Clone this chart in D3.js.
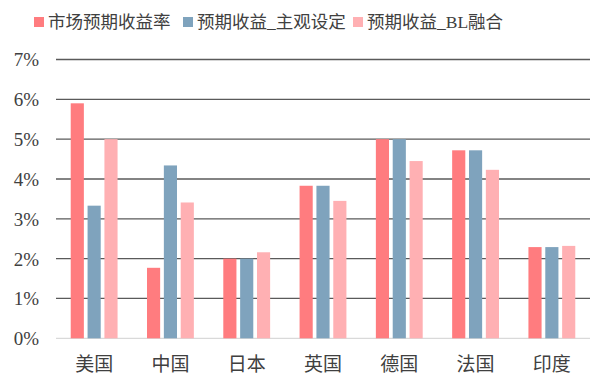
<!DOCTYPE html>
<html><head><meta charset="utf-8">
<script src="https://cdn.jsdelivr.net/npm/d3@7/dist/d3.min.js"></script>
<style>
body{margin:0;background:#fff;}
text{font-family:"Liberation Serif","Noto Sans CJK SC",serif;fill:#404040;}
</style></head>
<body><svg id="c" width="597" height="381"></svg>
<script>
const categories = ["美国","中国","日本","英国","德国","法国","印度"];
const seriesNames = ["市场预期收益率","预期收益_主观设定","预期收益_BL融合"];
const marketReturn = [0.059,0.0177,0.020,0.0383,0.050,0.0472,0.0229];
const subjectiveReturn = [0.0333,0.0434,0.020,0.0383,0.050,0.0472,0.0229];
const blReturn = [0.050,0.0341,0.0216,0.0345,0.0445,0.0423,0.0232];
const yTicks = [0,0.01,0.02,0.03,0.04,0.05,0.06,0.07];
const colors = ["#FF7C7F","#7FA3BD","#FFB0B3"];

(function(){
const seriesValues = [marketReturn, subjectiveReturn, blReturn];
const svg = d3.select("#c");
const pl = 56, pr = 590, pt = 59.5, pb = 338.3;

const x0 = d3.scaleBand().domain(categories).range([pl,pr]).padding(0);
const bw = x0.bandwidth();
const x1 = d3.scaleBand().domain(seriesNames).range([bw*0.193, bw*(1-0.193)]).paddingInner(0.22).paddingOuter(0);
const y = d3.scaleLinear().domain([0,0.07]).range([pb,pt]);

svg.append("g").selectAll("line").data(yTicks.filter(d=>d>0)).join("line")
  .attr("x1",pl).attr("x2",pr)
  .attr("y1",d=>y(d)).attr("y2",d=>y(d))
  .attr("stroke","#5a5a5a").attr("stroke-width",1.3);
svg.append("line").attr("x1",pl).attr("x2",pr).attr("y1",pb).attr("y2",pb)
  .attr("stroke","#d9d9d9").attr("stroke-width",1.3);

const yAxis = d3.axisLeft(y).tickValues(yTicks).tickFormat(d3.format(".0%")).tickSize(0).tickPadding(0);
const ya = svg.append("g").attr("transform","translate(39,0)").call(yAxis);
ya.select(".domain").remove();
ya.selectAll("text").style("font-size","19px").attr("fill","#404040").attr("dy","0.34em");

const groups = svg.append("g").selectAll("g").data(categories).join("g")
  .attr("transform",d=>`translate(${x0(d)},0)`);
groups.selectAll("rect").data((d,i)=>seriesNames.map((s,j)=>({s,j,v:seriesValues[j][i]}))).join("rect")
  .attr("x",d=>x1(d.s)).attr("width",x1.bandwidth())
  .attr("y",d=>y(d.v)).attr("height",d=>pb-y(d.v))
  .attr("fill",d=>colors[d.j]);

const xAxis = d3.axisBottom(x0).tickSize(0).tickPadding(0);
const xa = svg.append("g").attr("transform",`translate(0,${pb})`).call(xAxis);
xa.select(".domain").remove();
xa.selectAll("text").style("font-size","19px").attr("fill","#404040").attr("y",26).attr("dy","0.35em");

const legX = [34,183,353];
const leg = svg.append("g").selectAll("g").data(seriesNames).join("g")
  .attr("transform",(d,i)=>`translate(${legX[i]},0)`);
leg.append("rect").attr("x",0).attr("y",17).attr("width",10).attr("height",10).attr("fill",(d,i)=>colors[i]);
leg.append("text").attr("x",14).attr("y",22).attr("dy","0.36em").style("font-size","17.5px").attr("fill","#333").text(d=>d);
})();
</script></body></html>
